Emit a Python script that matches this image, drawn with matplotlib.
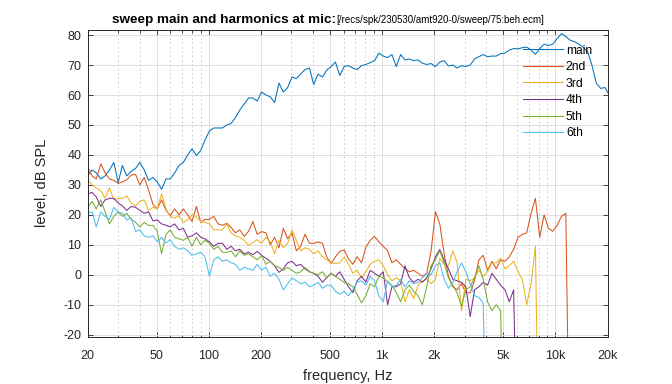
import matplotlib
matplotlib.use("Agg")
import matplotlib.pyplot as plt
from matplotlib.ticker import FixedLocator

# frequency grid (Hz), 1/12 octave steps, one row per octave
freq = [20, 21.2, 22.4, 23.8, 25.2, 26.7, 28.3, 30, 31.7, 33.6, 35.6, 37.8,
        40, 42.4, 44.9, 47.6, 50.4, 53.4, 56.6, 59.9, 63.5, 67.3, 71.3, 75.5,
        80, 84.8, 89.8, 95.1, 100.8, 106.8, 113.1, 119.9, 127, 134.5, 142.5, 151,
        160, 169.5, 179.6, 190.3, 201.6, 213.6, 226.3, 239.7, 254, 269.1, 285.1, 302,
        320, 339, 359, 381, 403, 427, 453, 479, 508, 538, 570, 604,
        640, 678, 718, 761, 806, 854, 905, 959, 1016, 1076, 1140, 1208,
        1280, 1356, 1437, 1522, 1613, 1709, 1810, 1918, 2032, 2153, 2281, 2416,
        2560, 2712, 2874, 3044, 3225, 3417, 3620, 3835, 4064, 4305, 4561, 4832,
        5120, 5424, 5747, 6089, 6451, 6834, 7241, 7671, 8127, 8611, 9123, 9665,
        10240, 10849, 11494, 12177, 12902, 13669, 14482, 15343, 16255, 17222, 18246, 19331,
        20480]

main = [33, 35, 34, 32, 33, 35, 37.5, 30.8, 36.5, 33, 34.5, 35.5,
        37.5, 35, 31.5, 32.5, 31, 28.5, 32, 32, 34, 36.5, 37.5, 40,
        42, 39.8, 41.5, 45, 48, 49, 49, 49, 50, 50.5, 52.5, 55,
        57, 59, 59, 58, 61, 60, 59.4, 57.5, 64, 61, 62.5, 66,
        65.5, 67, 68.5, 69, 63.5, 67, 66, 68.3, 69.5, 71, 66.5, 69.5,
        69.8, 69, 68.5, 69.8, 70.2, 70.8, 71.5, 74, 73, 72.5, 73.5, 69.5,
        73.5, 71.7, 72, 71.5, 71.7, 70.6, 70.2, 70.5, 69.5, 71, 71.5, 69.7,
        70, 69, 69.8, 69.5, 70, 72, 72.8, 73.5, 72.8, 73, 73, 73.8,
        74, 75, 75.5, 75.4, 75.8, 76, 75, 73.6, 75.5, 77, 76.5, 77,
        78.8, 80.5, 79.5, 78.3, 77.8, 77, 76, 74.5, 70, 64, 62.2, 62.5,
        60]

h2 = [36, 33, 32, 37, 34, 32, 31.5, 30.5, 31, 31.7, 33.3, 33.5,
      30, 32.5, 28.3, 23.5, 22, 25, 21.5, 19.8, 22, 20, 22, 20,
      17.8, 22.8, 17.5, 18.5, 18.5, 19.5, 17, 16.5, 17.2, 15.8, 14, 15,
      12.8, 14.5, 17.8, 13.5, 14.4, 14, 10, 12.5, 9, 15.5, 12, 14,
      8, 9.5, 13.5, 10.5, 10.5, 11, 10.5, 6, 3.8, 6, 7.8, 8.3,
      5.3, 3.5, 6, 4, 9.2, 11.5, 12.8, 11, 9.5, 8, 4, 5,
      3.5, 2, 1, 1.5, 0.5, -0.5, 0.5, 8, 21, 17, 7, -0.5,
      -4, -5, -3, -6, -6, -2, 5, 6.5, 1.5, 4.5, 2, 5,
      4.5, 6, 8.5, 12.5, 13.5, 14, 20.5, 25.5, 12.5, 20, 15.5, 14.5,
      16.5, 19.5, 20.5, -80]

h3 = [32, 30, 29, 28, 25.6, 29, 25, 25.5, 25.5, 26.3, 24, 23,
      24.5, 25, 21.5, 22.5, 22, 27, 22, 19.4, 19, 19.6, 17.5, 18.3,
      20, 19.2, 17.8, 17.5, 17, 15, 15, 15, 17, 14, 13, 12.5,
      11.5, 9.8, 10.8, 11.7, 10.5, 12.5, 11, 7, 11.5, 9, 10.5, 15,
      11.5, 8, 9, 8.5, 7, 8, 6, 5, 4, 3.8, 4, 6,
      3.5, 0.5, 1.5, -1, 1, 3.5, 4.5, 5, 3, 0, -2, -1,
      -2, -9, -5, -8, -3.5, -2, -1.5, -3, -1.5, 5.5, 3.5, 3,
      8, 4, -12, -1.5, -2, -1, 1.5, -0.5, 1, 4, 4, 5.5,
      2, 3, 4.5, 1, -1.5, -10, -3, 9.5, -80]

h4 = [27, 27.5, 26, 22.8, 25, 25.5, 25.5, 24, 23, 21.5, 22.8, 22.5,
      21.5, 20.5, 21, 18, 18.3, 17, 16.5, 16, 17, 15, 15.5, 12.5,
      13, 14, 12.5, 12, 11, 9.5, 10.5, 10.5, 8.5, 9.5, 8, 8.5,
      7, 7.5, 6.7, 7.8, 6.5, 5.5, 4.5, 3, 0.8, 2, 4, 4.5,
      3, 3.5, 2, 1, 0.5, -0.5, -2.5, -1, 0.5, -0.5, 1, -1.5,
      -4, -6, -2, -0.5, -2.5, 1.5, 0.5, -0.5, 1, -10, -4, -4,
      -3, 3, -1, -2.5, -1.5, -2.5, -1, 2, 6, 8.5, 5, 2,
      -1.5, -2, -2.5, -4, -14, -5, -4, -2.5, -3.5, 0.5, -1.5, -3.5,
      -5, -9, -5, -80]

h5 = [22.5, 24.5, 22, 25, 21, 17, 19.5, 21, 19.5, 20.5, 18.5, 17.5,
      16, 17.5, 16.5, 16.5, 14.5, 7, 13.5, 15, 12.5, 12, 11.5, 12.5,
      9.5, 12.5, 10, 11.5, 10.5, 8.5, 9.5, 7.5, 7.5, 8, 6, 8,
      6.5, 7, 6, 5, 6.5, 3.5, 4.5, 3, 2.5, 1.5, 2.5, 1.5,
      0.5, 1, 2.5, 1, 0.5, 0, 1, -1, 0.5, -0.5, -1.5, -2.5,
      -3, -4, -6.5, -9.4, -7, -3, -4, -0.5, -1, -2.5, -3.5, -6,
      -9, -5, -3.5, -5.5, -7, -10, -4, 3, 5, 8, 4, -1,
      -3.5, -6, -10.5, -5, -4, -1, 3, -1.5, -9, -12, -10, -12,
      -80]

h6 = [20.6, 21, 16, 21, 19.5, 18.5, 22.5, 21, 20.5, 18.3, 19, 14.5,
      15, 13, 12.5, 13, 11, 12.5, 10.6, 11.7, 9.5, 8.5, 9, 8,
      6.5, 7, 7.5, 6, -0.5, 5, 6, 4.5, 5, 4, 3.5, 1.5,
      2.5, 2, 1.5, 3.5, 1.5, 2.5, -0.5, 0.5, -1.5, -5, -3, -1,
      -2, -3, -2.5, -4, -3.5, -2.5, -4.5, -3.5, -3.5, -5.5, -6.5, -5.5,
      -7, -5, -2.5, -2, -3.5, -0.5, -2, -7, -9, -2, -4, -3.5,
      -1.5, -4, -2, -3, -2.5, -1, 0.5, 0, 3, 4, -1.5, -4.5,
      -2.5, 1, 4, 1, -3, -7, -7.5, -9.5, -80]

names = ["main", "2nd", "3rd", "4th", "5th", "6th"]
colors = ["#0072BD", "#D95319", "#EDB120", "#7E2F8E", "#77AC30", "#4DBEEE"]
series = [main, h2, h3, h4, h5, h6]

xticks = [20, 50, 100, 200, 500, 1000, 2000, 5000, 10000, 20000]
xticklabels = ["20", "50", "100", "200", "500", "1k", "2k", "5k", "10k", "20k"]
xminor = [m * 10 ** e for e in (1, 2, 3) for m in (3, 4, 6, 7, 8, 9)]
yticks = list(range(-20, 81, 10))

plt.rcParams["font.family"] = ["Liberation Sans", "DejaVu Sans"]
plt.rcParams["axes.unicode_minus"] = False
W, H = 672, 384
fig = plt.figure(figsize=(W / 100, H / 100), dpi=100)
ax = fig.add_axes([87.7 / W, 1 - 336.5 / H, (607.5 - 87.7) / W, (336.5 - 29.7) / H])

for name, vals, col in zip(names, series, colors):
    ax.plot(freq[:len(vals)], vals, color=col, lw=0.75, label=name)

ax.set_xscale("log")
ax.set_xlim(20, 20000)
ax.set_ylim(-20.6, 81.8)
ax.xaxis.set_major_locator(FixedLocator(xticks))
ax.xaxis.set_minor_locator(FixedLocator(xminor))
ax.set_xticklabels(xticklabels)
ax.xaxis.set_minor_formatter(plt.NullFormatter())
ax.yaxis.set_major_locator(FixedLocator(yticks))

ax.set_axisbelow(True)
ax.grid(which="major", color="#dedede", lw=0.7)
ax.grid(which="minor", axis="x", color="#d2d2d2", lw=0.7, linestyle=(0, (2, 2.5)))

ax.tick_params(which="both", direction="in", top=True, right=True,
               colors="#262626", labelsize=9, width=0.6)
ax.tick_params(which="major", length=3.3)
ax.tick_params(which="minor", length=1.8)
ax.tick_params(axis="x", which="major", pad=10)
ax.tick_params(axis="y", which="major", pad=4.5)
for sp in ax.spines.values():
    sp.set_color("#262626")
    sp.set_linewidth(0.7)

ax.set_xlabel("frequency, Hz", fontsize=10.5, color="#262626")
ax.xaxis.set_label_coords(347.6 / W, 1 - 376 / H, transform=fig.transFigure)
ax.xaxis.label.set_va("center")
ax.set_ylabel("level, dB SPL", fontsize=10.5, color="#262626")
ax.yaxis.set_label_coords(42 / W, 1 - 183 / H, transform=fig.transFigure)
ax.yaxis.label.set_va("center")

ax.legend(loc="upper left", bbox_to_anchor=(523 / W, 1 - 44.5 / H),
          bbox_transform=fig.transFigure, frameon=False, fontsize=8.7,
          handlelength=3.3, handletextpad=0.25, labelspacing=0.38,
          borderpad=0, borderaxespad=0)

t1 = fig.text(112 / W, 1 - 23 / H, "sweep main and harmonics at mic:",
              fontsize=9.7, fontweight="bold", va="baseline", ha="left")
fig.canvas.draw()
bb = t1.get_window_extent()
fig.text(bb.x1 / W, 1 - 23 / H, "[/recs/spk/230530/amt920-0/sweep/75:beh.ecm]",
         fontsize=7, va="baseline", ha="left")

fig.savefig("out.png", dpi=100)
